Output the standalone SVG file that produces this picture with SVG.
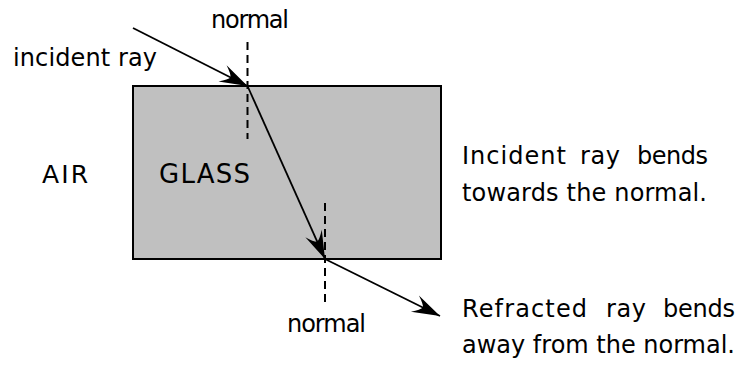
<svg xmlns="http://www.w3.org/2000/svg" width="755" height="365" viewBox="0 0 755 365">
<style>
text{font-family:"DejaVu Sans","Noto Sans",sans-serif;font-size:24px;fill:#000}
.ray{stroke:#000;stroke-width:1.8;fill:none;marker-end:url(#ah)}
.nrm{stroke:#000;stroke-width:2;stroke-dasharray:8,5;fill:none}
</style>
<defs>
<marker id="ah" markerUnits="userSpaceOnUse" viewBox="-30 -11 32 22" refX="0" refY="0" markerWidth="32" markerHeight="22" orient="auto">
<path d="M0,0 L-28,-9 Q-20,-3 -19,0 Q-20,3 -28,9 Z" fill="#000"/>
</marker>
</defs>
<g id="glass">
<rect x="133" y="86" width="308" height="173" fill="#c0c0c0" stroke="#000" stroke-width="2"/>
<text x="159" y="183" style="font-size:26px" textLength="91">GLASS</text>
</g>
<g id="air"><text x="42" y="183" style="font-size:25px" textLength="46">AIR</text></g>
<g id="connectors">
<line class="nrm" x1="247.5" y1="42" x2="247.5" y2="139"/>
<line class="nrm" x1="325" y1="203" x2="325" y2="307"/>
<line class="ray" x1="133" y1="28" x2="247.5" y2="86"/>
<line class="ray" x1="247.5" y1="86" x2="325" y2="259"/>
<line class="ray" x1="325" y1="259" x2="440" y2="316"/>
</g>
<g id="label-normal-top"><text x="211" y="28" textLength="78">normal</text></g>
<g id="label-normal-bottom"><text x="287" y="332" textLength="79">normal</text></g>
<g id="label-incident"><text x="13" y="66" textLength="144">incident ray</text></g>
<g id="note-incident">
<text y="164"><tspan x="462" textLength="104">Incident</tspan><tspan x="580" textLength="40">ray</tspan><tspan x="637" textLength="71">bends</tspan></text>
<text x="462" y="201" textLength="245">towards the normal.</text>
</g>
<g id="note-refracted">
<text y="317"><tspan x="462" textLength="125">Refracted</tspan><tspan x="606" textLength="40">ray</tspan><tspan x="663" textLength="72">bends</tspan></text>
<text x="462" y="353" textLength="273">away from the normal.</text>
</g>
</svg>
